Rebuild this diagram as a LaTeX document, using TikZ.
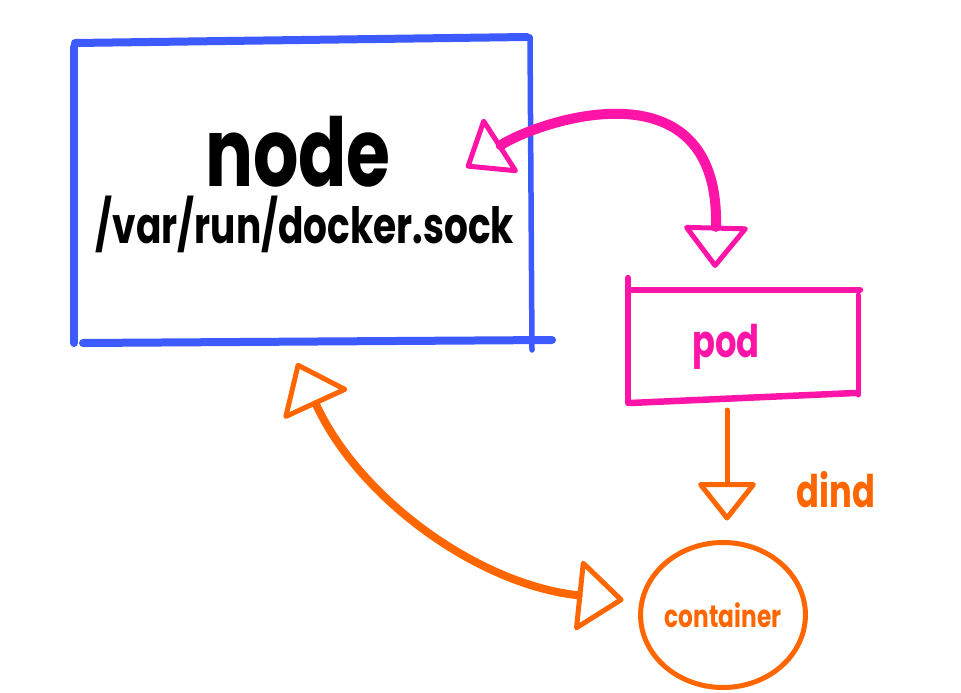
\documentclass[tikz,border=0pt]{standalone}
\usepackage{fontspec}
\setmainfont{Poppins}[FakeStretch=0.75]
\usepackage{tikz}
\usetikzlibrary{arrows.meta,positioning,shapes.geometric}
\usepackage{xcolor}
\definecolor{skblue}{HTML}{3D5AFE}
\definecolor{skpink}{HTML}{FF14A8}
\definecolor{skorange}{HTML}{FF6600}
\tikzset{
  area/.style    ={inner sep=0pt, outer sep=0pt},
  bluepen/.style ={skblue, line width=8pt, line cap=round},
  pinkpen/.style ={skpink, line width=6.5pt, line cap=round},
  ctrnode/.style ={draw=skorange, ellipse, line width=5pt, inner sep=0pt,
                   outer sep=0pt, minimum width=152pt, minimum height=145pt,
                   text=skorange, font=\bfseries\fontsize{31pt}{31pt}\selectfont},
  pnkarr/.style  ={<->, >={Triangle[open,round,length=44pt,width=68pt,line width=5pt]},
                   skpink, line width=10pt, line cap=round},
  orgarr/.style  ={<->, >={Triangle[open,round,length=48pt,width=74pt,line width=5pt]},
                   skorange, line width=8pt, line cap=round},
  orgdown/.style ={->, >={Triangle[open,round,length=40pt,width=62pt,line width=5pt]},
                   skorange, line width=5pt, line cap=round},
  lbl/.style     ={anchor=base, inner sep=0pt},
}

\begin{document}
\begin{tikzpicture}[x=1pt, y=-1pt]
\useasboundingbox (0,0) rectangle (961,693);
\node[area, minimum width=456pt, minimum height=303pt] (nd) at (301,191.5) {};
\node[area, minimum width=230pt, minimum height=112pt] (pd) at (743,344) {};
\node[ctrnode] (ct) at (723,615) {container};
% hand drawn box sides
\draw[bluepen] ([xshift=2pt,yshift=-3pt]nd.north west) -- ([xshift=-2pt,yshift=3pt]nd.north east);
\draw[bluepen] ([xshift=1pt,yshift=-7pt]nd.north west) -- ([xshift=1pt]nd.south west);
\draw[bluepen] ([xshift=10pt]nd.south west) -- ([xshift=23pt,yshift=3pt]nd.south east);
\draw[bluepen, line width=5.5pt] ([xshift=1pt,yshift=3pt]nd.north east) -- ([xshift=3pt,yshift=-7pt]nd.south east);
\draw[pinkpen] ([xshift=4pt,yshift=-2pt]pd.north west) -- ([xshift=2pt,yshift=-2pt]pd.north east);
\draw[pinkpen] ([yshift=10pt]pd.north west) -- ([yshift=-3pt]pd.south west);
\draw[pinkpen, line width=5pt] ([yshift=-7pt]pd.north east) -- ([yshift=5pt]pd.south east);
\draw[pinkpen] ([xshift=2pt,yshift=-3pt]pd.south west) -- ([xshift=-3pt,yshift=7pt]pd.south east);
% labels
\node[lbl, font=\bfseries\fontsize{95pt}{95pt}\selectfont] (ndtitle) at (298,186) {node};
\node[lbl, font=\bfseries\fontsize{50pt}{50pt}\selectfont] (ndpath) at (305,243) {/var/run/docker.sock};
\node[lbl, text=skpink, font=\bfseries\fontsize{45pt}{45pt}\selectfont] (pdlab) at (726,357) {pod};
\node[lbl, text=skorange, font=\bfseries\fontsize{45pt}{45pt}\selectfont] (dind) at (836,507) {dind};
% connectors
\draw[pnkarr] ([xshift=-63pt,yshift=24pt]nd.east) .. controls (540,120) and (720,60)
  .. ([xshift=-28pt,yshift=20pt]pd.north);
\draw[orgarr] ([xshift=-4pt,yshift=-20pt]nd.south) .. controls (360,500) and (480,585)
  .. ([xshift=-17pt,yshift=15pt]ct.west);
\draw[orgdown] ([xshift=-16pt,yshift=-10pt]pd.south) -- ([xshift=4pt,yshift=22pt]ct.north);
\end{tikzpicture}
\end{document}
